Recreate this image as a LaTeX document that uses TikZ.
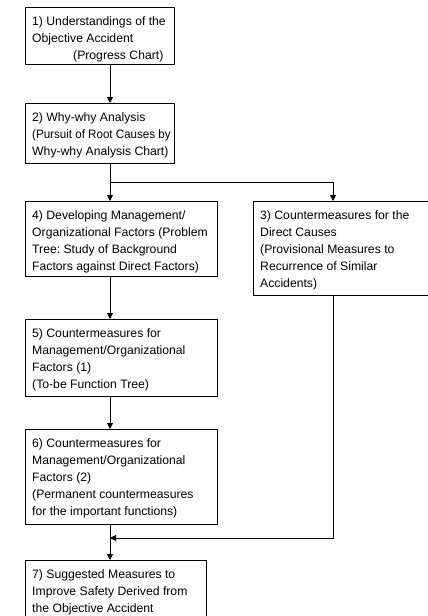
\documentclass[tikz,border=0pt]{standalone}
\usepackage{graphicx}
\usepackage{fontspec}
\setmainfont{Liberation Sans}
\usetikzlibrary{arrows.meta}
\frenchspacing

\tikzset{
  stepbox/.style={draw=black, line width=0.8pt, anchor=north west,
    inner sep=0pt, fill=white},
  steptext/.style={anchor=north west, align=left, inner sep=0pt,
    font=\fontsize{12.2}{17.2}\selectfont},
  link/.style={draw=black, line width=0.8pt},
  arr/.style={link, -{Triangle[length=6pt,width=6pt]}}
}
% text block placed inside a box, 7pt in from its left and 9pt down from its top
\newcommand{\boxtext}[3]{\node[steptext] (#1) at ([xshift=7pt,yshift=-9pt]#2.north west) {#3};}

\begin{document}
\begin{tikzpicture}[x=1pt, y=-1pt]
  \useasboundingbox (0,0) rectangle (428,616);
  \clip (0,0) rectangle (428,616);
  \fill[white] (0,0) rectangle (428,616);

  % process boxes
  \node[stepbox, minimum width=149pt, minimum height=57pt] (b1) at (25,7) {};
  \node[stepbox, minimum width=149pt, minimum height=60pt] (b2) at (25,103) {};
  \node[stepbox, minimum width=192pt, minimum height=75pt] (b4) at (25,201) {};
  \node[stepbox, minimum width=190pt, minimum height=94pt] (b3) at (253,201) {};
  \node[stepbox, minimum width=192pt, minimum height=77pt] (b5) at (25,319) {};
  \node[stepbox, minimum width=192pt, minimum height=95pt] (b6) at (25,429) {};
  \node[stepbox, minimum width=181pt, minimum height=57pt] (b7) at (25,560) {};

  % box texts
  \boxtext{t1}{b1}{1) Understandings of the\\Objective Accident\\\hspace*{41pt}(Progress Chart)}
  \boxtext{t2}{b2}{2) Why-why Analysis\\\scalebox{0.95}[1]{(Pursuit of Root Causes by}\\Why-why Analysis Chart)}
  \boxtext{t4}{b4}{4) Developing Management/\\Organizational Factors (Problem\\Tree: Study of Background\\Factors against Direct Factors)}
  \boxtext{t3}{b3}{3) Countermeasures for the\\Direct Causes\\(Provisional Measures to\\Recurrence of Similar\\Accidents)}
  \boxtext{t5}{b5}{5) Countermeasures for\\Management/Organizational\\Factors (1)\\(To-be Function Tree)}
  \boxtext{t6}{b6}{6) Countermeasures for\\Management/Organizational\\Factors (2)\\(Permanent countermeasures\\for the important functions)}
  \boxtext{t7}{b7}{7) Suggested Measures to\\Improve Safety Derived from\\the Objective Accident}

  % routing points
  \coordinate (spine) at (110,0);
  \coordinate (side) at (333,0);
  \coordinate (split) at (110,182);
  \coordinate (join) at (110,538);

  % connectors
  \draw[arr] (b1.south -| spine) -- (b2.north -| spine);
  \draw[link] (b2.south -| spine) -- (split);
  \draw[arr] (split) -- (b4.north -| spine);
  \draw[arr] (split) -| (b3.north -| side);
  \draw[arr] (b4.south -| spine) -- (b5.north -| spine);
  \draw[arr] (b5.south -| spine) -- (b6.north -| spine);
  \draw[arr] (b6.south -| spine) -- (b7.north -| spine);
  \draw[arr] (b3.south -| side) |- (join);
\end{tikzpicture}
\end{document}
